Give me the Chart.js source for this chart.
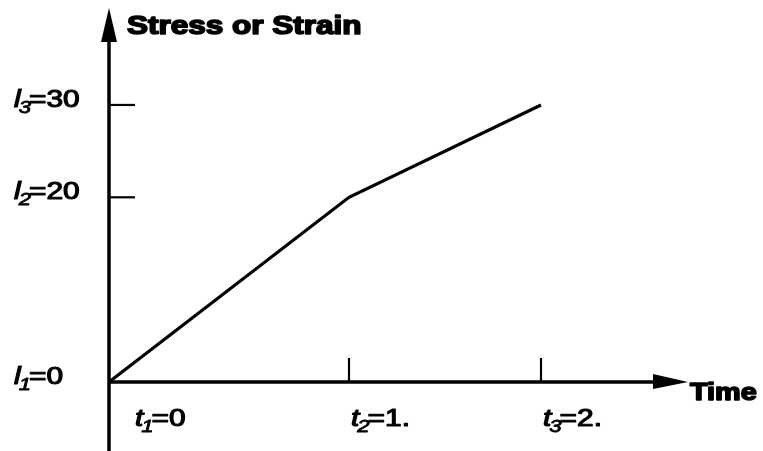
<!DOCTYPE html>
<html><head><meta charset="utf-8">
<script src="https://cdn.jsdelivr.net/npm/chart.js@4/dist/chart.umd.min.js"></script>
<style>html,body{margin:0;padding:0;background:#fff;}</style>
</head><body>
<canvas id="c" width="763" height="451"></canvas>
<script>
// Data (x positions as drawn relative to the axis)
const timeValues = [0, 1, 1.8];
const stressValues = [0, 20, 30];
const xTickValues = [0, 1, 1.8];
const xTickSymbols = ['t', 't', 't'];
const xTickSubs = ['1', '2', '3'];
const xTickText = ['=0', '=1.', '=2.'];
const yTickValues = [0, 20, 30];
const yTickSymbols = ['l', 'l', 'l'];
const yTickSubs = ['1', '2', '3'];
const yTickText = ['=0', '=20', '=30'];
const yTitle = 'Stress or Strain';
const xTitle = 'Time';

const FONT = '"Liberation Sans", Arial, Helvetica, sans-serif';
const STRETCH = 1.3;

function drawText(ctx, text, x, y, font, sx, stroke) {
  ctx.save();
  ctx.translate(x, y);
  ctx.scale(sx, 1);
  ctx.font = font;
  ctx.fillStyle = '#000';
  ctx.textBaseline = 'alphabetic';
  ctx.textAlign = 'left';
  ctx.fillText(text, 0, 0);
  if (stroke) { ctx.lineWidth = stroke; ctx.lineJoin = 'round'; ctx.strokeStyle = '#000'; ctx.strokeText(text, 0, 0); }
  const w = ctx.measureText(text).width * sx;
  ctx.restore();
  return w;
}

function drawLabel(ctx, sym, sub, txt, x, base) {
  let cx = x;
  cx += drawText(ctx, sym, cx, base, 'italic 23px ' + FONT, STRETCH, 1.1);
  cx += drawText(ctx, sub, cx - 2, base + 6, 'italic 17px ' + FONT, STRETCH, 0.8) - 4;
  drawText(ctx, txt, cx, base, '23px ' + FONT, STRETCH, 1.1);
}

const axesPlugin = {
  id: 'axesPlugin',
  beforeDatasetsDraw(chart) {
    const ctx = chart.ctx;
    const a = chart.chartArea;
    const xs = chart.scales.x, ys = chart.scales.y;
    const ox = xs.getPixelForValue(0), oy = ys.getPixelForValue(0);
    ctx.save();
    ctx.strokeStyle = '#000';
    ctx.fillStyle = '#000';
    // y axis
    ctx.lineWidth = 3.5;
    ctx.beginPath();
    ctx.moveTo(ox, a.top + 20);
    ctx.lineTo(ox, chart.height);
    ctx.stroke();
    ctx.beginPath();
    ctx.moveTo(ox, a.top);
    ctx.lineTo(ox - 8, a.top + 34);
    ctx.lineTo(ox + 8, a.top + 34);
    ctx.closePath();
    ctx.fill();
    // x axis
    const tipX = a.right + 3;
    ctx.beginPath();
    ctx.moveTo(ox, oy);
    ctx.lineTo(tipX - 20, oy);
    ctx.stroke();
    ctx.beginPath();
    ctx.moveTo(tipX, oy);
    ctx.lineTo(tipX - 35, oy - 8);
    ctx.lineTo(tipX - 35, oy + 7);
    ctx.closePath();
    ctx.fill();
    // ticks
    ctx.lineWidth = 2.2;
    yTickValues.forEach(v => {
      if (v === 0) return;
      const py = ys.getPixelForValue(v);
      ctx.beginPath(); ctx.moveTo(ox, py); ctx.lineTo(ox + 26, py); ctx.stroke();
    });
    xTickValues.forEach(v => {
      if (v === 0) return;
      const px = xs.getPixelForValue(v);
      ctx.beginPath(); ctx.moveTo(px, oy); ctx.lineTo(px, oy - 24); ctx.stroke();
    });
    ctx.restore();
  },
  afterDraw(chart) {
    const ctx = chart.ctx;
    const a = chart.chartArea;
    const xs = chart.scales.x, ys = chart.scales.y;
    const ox = xs.getPixelForValue(0), oy = ys.getPixelForValue(0);
    yTickValues.forEach((v, i) => {
      const py = ys.getPixelForValue(v);
      drawLabel(ctx, yTickSymbols[i], yTickSubs[i], yTickText[i], 14, py + 2);
    });
    xTickValues.forEach((v, i) => {
      const px = xs.getPixelForValue(v);
      const lx = Math.max(px + 2, ox + 26);
      drawLabel(ctx, xTickSymbols[i], xTickSubs[i], xTickText[i], lx, oy + 44);
    });
    drawText(ctx, yTitle, ox + 18, a.top + 26, 'bold 25px ' + FONT, 1.26, 1.6);
    drawText(ctx, xTitle, a.right + 5, oy + 18, 'bold 24px ' + FONT, 1.2, 1.6);
  }
};

new Chart(document.getElementById('c'), {
  type: 'line',
  data: {
    datasets: [{
      data: timeValues.map((t, i) => ({ x: t, y: stressValues[i] })),
      borderColor: '#000',
      borderWidth: 3.2,
      pointRadius: 0,
      tension: 0,
      fill: false
    }]
  },
  options: {
    responsive: false,
    devicePixelRatio: 1,
    animation: false,
    layout: { padding: { left: 109, top: 8, right: 78, bottom: 69 } },
    scales: {
      x: { type: 'linear', min: 0, max: 2.4, display: false },
      y: { type: 'linear', min: 0, max: 40.5, display: false }
    },
    plugins: { legend: { display: false }, tooltip: { enabled: false } }
  },
  plugins: [axesPlugin]
});
</script>
</body></html>
